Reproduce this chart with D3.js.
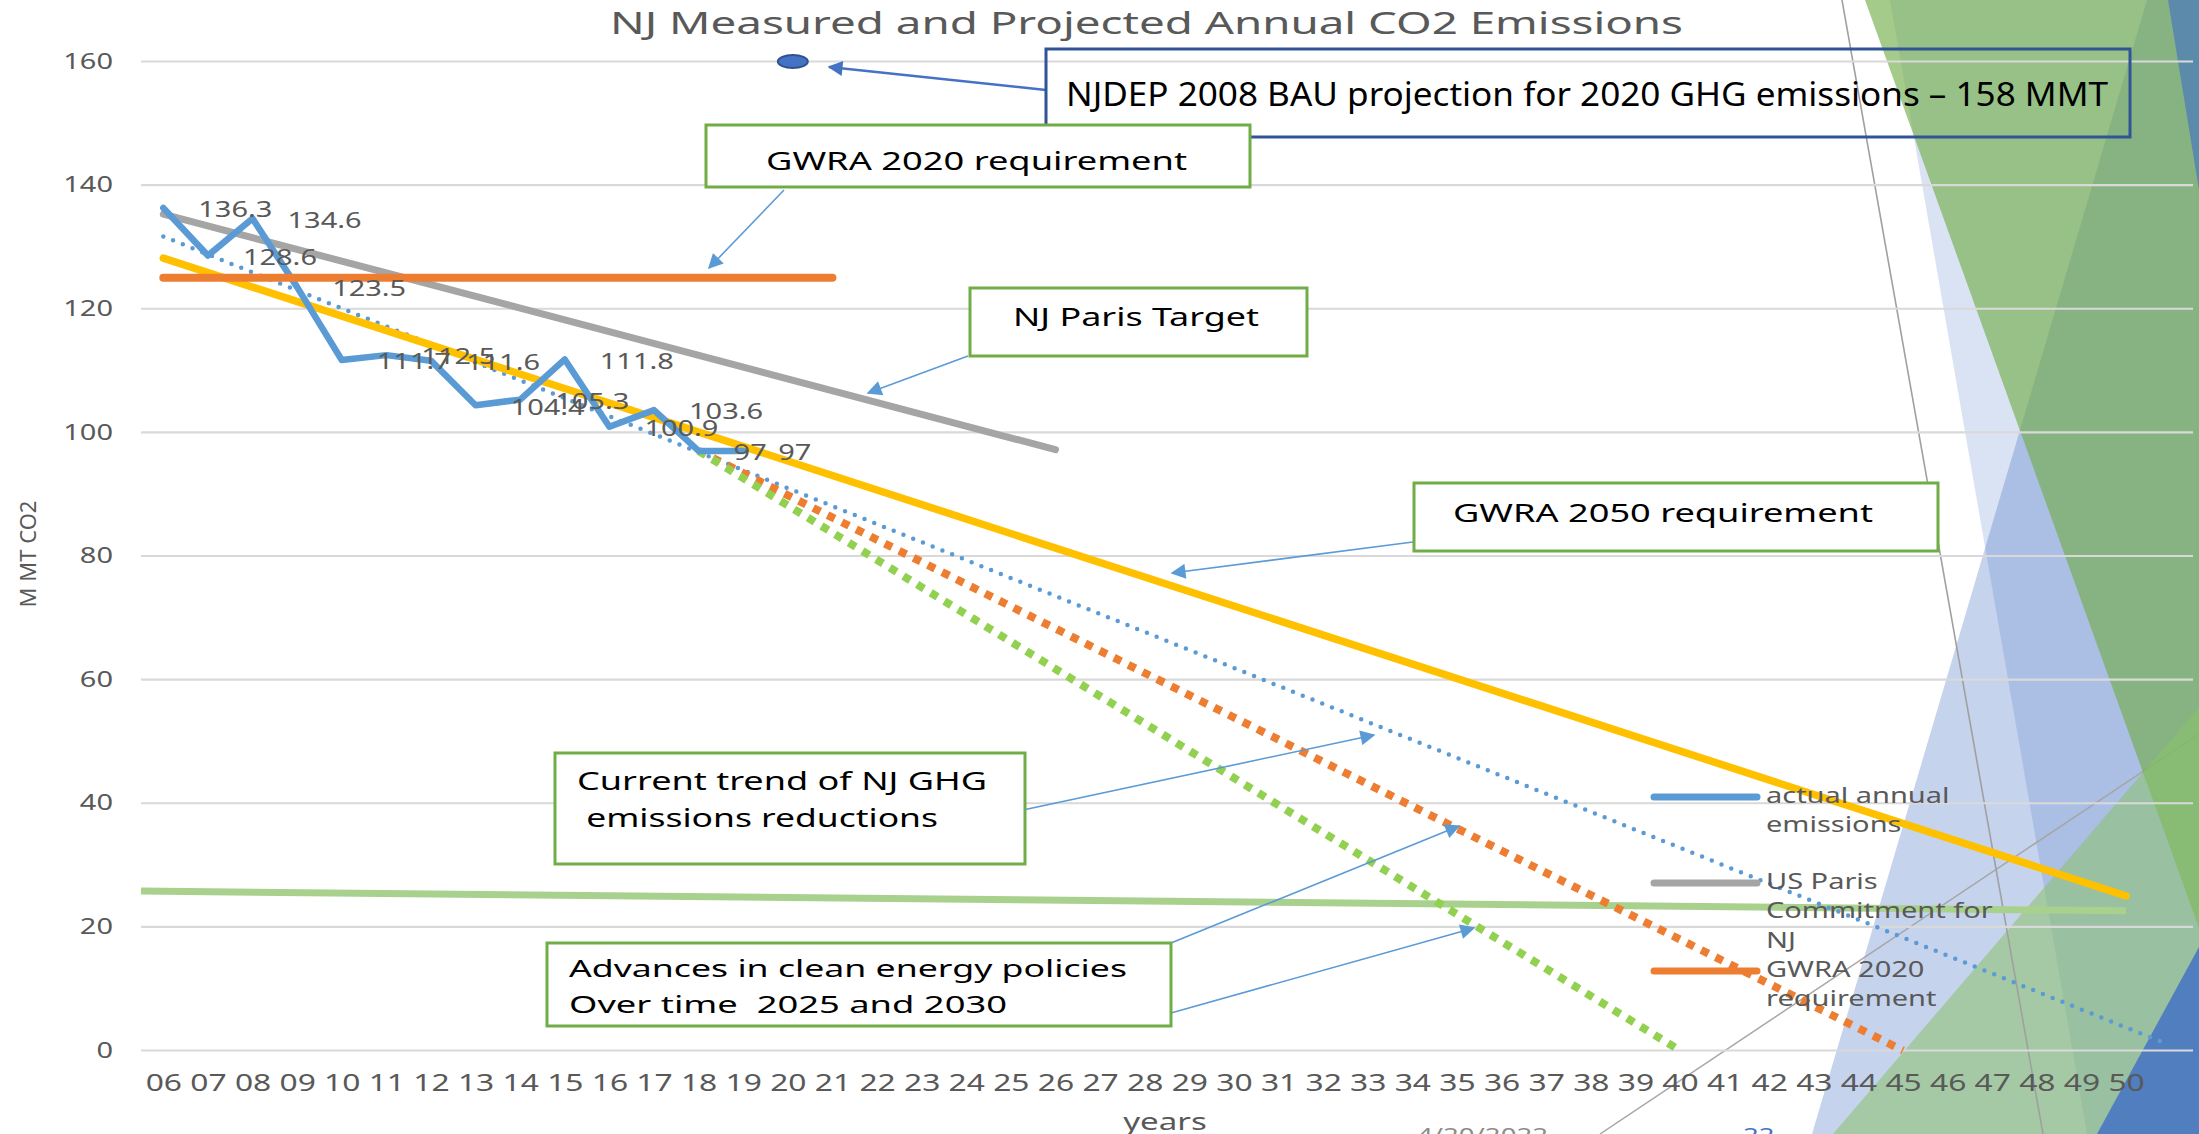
<!DOCTYPE html>
<html>
<head>
<meta charset="utf-8">
<script src="https://cdn.jsdelivr.net/npm/d3@7"></script>
<style>
  html, body { margin: 0; padding: 0; background: #fff; }
  svg { display: block; }
  text { font-family: "Noto Sans", "Open Sans", sans-serif; white-space: pre; }
</style>
</head>
<body>
<div id="chart"></div>
<script>
// Data (years are 20xx, two digits)

const yearLabels = ["06", "07", "08", "09", "10", "11", "12", "13", "14", "15",
  "16", "17", "18", "19", "20", "21", "22", "23", "24", "25", "26", "27", "28",
  "29", "30", "31", "32", "33", "34", "35", "36", "37", "38", "39", "40", "41",
  "42", "43", "44", "45", "46", "47", "48", "49", "50"];
const yTicks = [0, 20, 40, 60, 80, 100, 120, 140, 160];

const actualYears = [6, 7, 8, 9, 10, 11, 12, 13, 14, 15, 16, 17, 18, 19];
const actualValues = [136.3, 128.6, 134.6, 123.5, 111.7, 112.5, 111.6, 104.4,
  105.3, 111.8, 100.9, 103.6, 97, 97];

const parisYears = [6, 15, 26];
const parisValues = [135.3, 118.2, 97.2];

const gwra2020Years = [6, 21];
const gwra2020Values = [125, 125];

const gwra2050Years = [6, 50];
const gwra2050Values = [128.2, 25.0];

const trendYears = [6, 50.9];
const trendValues = [131.7, 1.1];

const policy2030Years = [18, 45];
const policy2030Values = [97, 0];

const policy2025Years = [18, 40];
const policy2025Values = [97, 0];

const floorYears = [5.5, 50];
const floorValues = [25.8, 22.6];

const bauYear = 20;
const bauValue = 160;

const legendNames = [
  ["actual annual", "emissions"],
  ["US Paris", "Commitment for", "NJ"],
  ["GWRA 2020", "requirement"],
];
const legendColors = ["#5B9BD5", "#A5A5A5", "#ED7D31"];

// Layout

const width = 2199;
const height = 1134;
const plot = {left: 141, right: 2193, top: 61.5, bottom: 1050.5};
const S = 1.38; // horizontal stretch of the chart lettering
const gray = "#595959";

/**
 * Stretch text horizontally around its anchor point.
 * @param {*} sel
 */
function stretch(sel) {
  sel.each(function() {
    const t = d3.select(this);
    const x = +t.attr("x") || 0;
    const y = +t.attr("y") || 0;
    t.attr("x", 0).attr("y", 0)
      .attr("transform", "translate(" + x + "," + y + ") scale(" + S + ",1)");
  });
}

const svg = d3.select("#chart")
  .append("svg")
  .attr("width", width)
  .attr("height", height)
  .attr("viewBox", "0 0 " + width + " " + height);

// Slide decoration on the right edge

const facets = [
  {pts: [[1890, 0], [2199, 0], [2199, 1134], [2087, 1134]], fill: "#4472C4", op: 0.2},
  {pts: [[2147, 0], [2199, 0], [2199, 1134], [1812, 1134]], fill: "#4472C4", op: 0.31},
];
const facetsTop = [
  {pts: [[1865, 0], [2199, 0], [2199, 928]], fill: "#70AD47", op: 0.63},
  {pts: [[2168, 0], [2199, 0], [2199, 190]], fill: "#4472C4", op: 0.63},
  {pts: [[1833, 1134], [2199, 1134], [2199, 707]], fill: "#8BC168", op: 0.55},
  {pts: [[2097, 1134], [2199, 1134], [2199, 947]], fill: "#4472C4", op: 0.85},
];

const deco = svg.append("g").attr("class", "deco");
deco.selectAll("polygon.back")
  .data(facets)
  .enter()
  .append("polygon")
  .attr("points", (d) => d.pts.join(" "))
  .style("fill", (d) => d.fill)
  .style("fill-opacity", (d) => d.op);
deco.append("line")
  .attr("x1", 1600).attr("y1", 1134).attr("x2", 2199).attr("y2", 734)
  .style("stroke", "#A6A6A6").style("stroke-width", 1.5);
deco.selectAll("polygon.front")
  .data(facetsTop)
  .enter()
  .append("polygon")
  .attr("points", (d) => d.pts.join(" "))
  .style("fill", (d) => d.fill)
  .style("fill-opacity", (d) => d.op);
deco.append("line")
  .attr("x1", 1842).attr("y1", 0).attr("x2", 2043).attr("y2", 1134)
  .style("stroke", "#A0A0A0").style("stroke-width", 1.6);

// Scales

const x = d3.scaleLinear().domain([5.5, 51.5]).range([plot.left, plot.right]);
const y = d3.scaleLinear().domain([0, 160]).range([plot.bottom, plot.top]);

// Gridlines

svg.append("g")
  .selectAll("line")
  .data(yTicks)
  .enter()
  .append("line")
  .attr("x1", plot.left)
  .attr("x2", plot.right)
  .attr("y1", (d) => y(d))
  .attr("y2", (d) => y(d))
  .style("stroke", "#D9D9D9")
  .style("stroke-width", 2.2);

// Axes

const yAxis = svg.append("g")
  .attr("transform", "translate(" + plot.left + ",0)")
  .call(d3.axisLeft(y).tickValues(yTicks).tickSize(0).tickPadding(28));
yAxis.select(".domain").remove();
yAxis.selectAll("text")
  .style("font-family", "'Noto Sans', sans-serif")
  .style("font-size", "21px")
  .style("fill", gray)
  .call(stretch);

const xAxis = svg.append("g")
  .attr("transform", "translate(0," + plot.bottom + ")")
  .call(d3.axisBottom(x)
    .tickValues(yearLabels.map((d) => +d))
    .tickFormat((d, i) => yearLabels[i])
    .tickSize(0)
    .tickPadding(24));
xAxis.select(".domain").remove();
xAxis.selectAll("text")
  .style("font-family", "'Noto Sans', sans-serif")
  .style("font-size", "23px")
  .style("fill", gray)
  .call(stretch);

// Series

const pairs = (xs, vs) => xs.map((d, i) => ({year: d, value: vs[i]}));
const line = d3.line().x((d) => x(d.year)).y((d) => y(d.value));

const series = [
  {data: pairs(floorYears, floorValues), color: "#A9D18E", w: 7, cap: "butt"},
  {data: pairs(trendYears, trendValues), color: "#5B9BD5", w: 4.5, cap: "round", dash: "0 10.5"},
  {data: pairs(policy2030Years, policy2030Values), color: "#ED7D31", w: 8, cap: "butt", dash: "8 8"},
  {data: pairs(policy2025Years, policy2025Values), color: "#92D050", w: 8, cap: "butt", dash: "8 8"},
  {data: pairs(gwra2050Years, gwra2050Values), color: "#FFC000", w: 7.5, cap: "round"},
  {data: pairs(parisYears, parisValues), color: "#A5A5A5", w: 7, cap: "round"},
  {data: pairs(actualYears, actualValues), color: "#5B9BD5", w: 6.5, cap: "round"},
  {data: pairs(gwra2020Years, gwra2020Values), color: "#ED7D31", w: 8, cap: "round"},
];

svg.append("g")
  .selectAll("path")
  .data(series)
  .enter()
  .append("path")
  .attr("d", (d) => line(d.data))
  .style("fill", "none")
  .style("stroke", (d) => d.color)
  .style("stroke-width", (d) => d.w)
  .style("stroke-linecap", (d) => d.cap)
  .style("stroke-linejoin", "round")
  .style("stroke-dasharray", (d) => d.dash || null);

// Data labels, to the right of each point
svg.append("g")
  .selectAll("text")
  .data(pairs(actualYears, actualValues))
  .enter()
  .append("text")
  .attr("x", (d) => x(d.year) + 35)
  .attr("y", (d) => y(d.value) + 2)
  .attr("dy", "0.35em")
  .text((d) => String(d.value))
  .style("font-size", "21px")
  .style("fill", gray)
  .call(stretch);

// BAU projection marker
svg.append("ellipse")
  .attr("cx", x(bauYear) + 5)
  .attr("cy", y(bauValue))
  .attr("rx", 15)
  .attr("ry", 6.5)
  .style("fill", "#4472C4")
  .style("stroke", "#2F528F")
  .style("stroke-width", 2);

// Legend
const legend = svg.append("g");
const legendTop = [797, 883, 971];
legendNames.forEach(function(lines, i) {
  legend.append("line")
    .attr("x1", 1654).attr("x2", 1757)
    .attr("y1", legendTop[i]).attr("y2", legendTop[i])
    .style("stroke", legendColors[i])
    .style("stroke-width", 7)
    .style("stroke-linecap", "round");
  legend.selectAll(null)
    .data(lines)
    .enter()
    .append("text")
    .attr("x", 1766)
    .attr("y", (d, j) => legendTop[i] + 6 + j * 29.3)
    .text((d) => d)
    .style("font-size", "21px")
    .style("fill", gray)
    .call(stretch);
});

// Titles
svg.append("text")
  .attr("x", 610).attr("y", 34)
  .attr("textLength", 1073).attr("lengthAdjust", "spacingAndGlyphs")
  .text("NJ Measured and Projected Annual CO2 Emissions")
  .style("font-size", "31.5px")
  .style("fill", gray);

svg.append("text")
  .attr("transform", "translate(36,554) rotate(-90)")
  .attr("text-anchor", "middle")
  .text("M MT CO2")
  .style("font-size", "22px")
  .style("fill", gray);

svg.append("text")
  .attr("x", 1165).attr("y", 1130)
  .attr("text-anchor", "middle")
  .text("years")
  .style("font-size", "24px")
  .style("fill", gray)
  .call(stretch);

// Slide footer (cut off at the bottom)
svg.append("text")
  .attr("x", 1417).attr("y", 1142)
  .text("4/20/2022")
  .style("font-size", "20px")
  .style("fill", "#8C8C8C")
  .call(stretch);
svg.append("text")
  .attr("x", 1743).attr("y", 1142)
  .text("22")
  .style("font-size", "20px")
  .style("fill", "#4472C4")
  .call(stretch);

// Annotations

const defs = svg.append("defs");
["#5B9BD5", "#4472C4"].forEach(function(c, i) {
  defs.append("marker")
    .attr("id", "head" + i)
    .attr("viewBox", "0 0 10 10")
    .attr("refX", 9)
    .attr("refY", 5)
    .attr("markerUnits", "userSpaceOnUse")
    .attr("markerWidth", 17)
    .attr("markerHeight", 15)
    .attr("orient", "auto")
    .append("path")
    .attr("d", "M0,0 L10,5 L0,10 z")
    .style("fill", c);
});

const arrows = [
  {x1: 1046, y1: 90, x2: 829, y2: 67, head: 1, color: "#4472C4", w: 2.5},
  {x1: 784, y1: 190, x2: 709, y2: 268, head: 0, color: "#5B9BD5", w: 1.6},
  {x1: 968, y1: 356, x2: 868, y2: 393, head: 0, color: "#5B9BD5", w: 1.6},
  {x1: 1413, y1: 542, x2: 1172, y2: 573, head: 0, color: "#5B9BD5", w: 1.6},
  {x1: 1023, y1: 810, x2: 1374, y2: 735, head: 0, color: "#5B9BD5", w: 1.6},
  {x1: 1171, y1: 943, x2: 1459, y2: 826, head: 0, color: "#5B9BD5", w: 1.6},
  {x1: 1171, y1: 1013, x2: 1474, y2: 928, head: 0, color: "#5B9BD5", w: 1.6},
];

const boxes = [
  {x: 1046, y: 49, w: 1084, h: 88, stroke: "#2F5597", fill: "none"},
  {x: 706, y: 125, w: 544, h: 62, stroke: "#70AD47", fill: "#fff"},
  {x: 970, y: 288, w: 337, h: 68, stroke: "#70AD47", fill: "#fff"},
  {x: 1414, y: 483, w: 524, h: 68, stroke: "#70AD47", fill: "#fff"},
  {x: 555, y: 753, w: 470, h: 111, stroke: "#70AD47", fill: "#fff"},
  {x: 547, y: 943, w: 624, h: 83, stroke: "#70AD47", fill: "#fff"},
];

const notes = [
  {t: "NJDEP 2008 BAU projection for 2020 GHG emissions \u2013 158 MMT", x: 1066, y: 106, size: 33, len: 1042},
  {t: "GWRA 2020 requirement", x: 766, y: 170, size: 25, len: 421},
  {t: "NJ Paris Target", x: 1013, y: 326, size: 25, len: 246},
  {t: "GWRA 2050 requirement", x: 1453, y: 522, size: 25, len: 420},
  {t: "Current trend of NJ GHG", x: 577, y: 790, size: 25, len: 410},
  {t: " emissions reductions", x: 577, y: 827, size: 25, len: 361},
  {t: "Advances in clean energy policies", x: 569, y: 977, size: 24, len: 558},
  {t: "Over time  2025 and 2030", x: 569, y: 1013, size: 24, len: 438},
];

const ann = svg.append("g");
ann.selectAll("line")
  .data(arrows)
  .enter()
  .append("line")
  .attr("x1", (d) => d.x1).attr("y1", (d) => d.y1)
  .attr("x2", (d) => d.x2).attr("y2", (d) => d.y2)
  .attr("marker-end", (d) => "url(#head" + d.head + ")")
  .style("stroke", (d) => d.color)
  .style("stroke-width", (d) => d.w);

ann.selectAll("rect")
  .data(boxes)
  .enter()
  .append("rect")
  .attr("x", (d) => d.x).attr("y", (d) => d.y)
  .attr("width", (d) => d.w).attr("height", (d) => d.h)
  .style("fill", (d) => d.fill)
  .style("stroke", (d) => d.stroke)
  .style("stroke-width", 3);

ann.selectAll("text")
  .data(notes)
  .enter()
  .append("text")
  .attr("x", (d) => d.x).attr("y", (d) => d.y)
  .attr("textLength", (d) => d.len)
  .attr("lengthAdjust", "spacingAndGlyphs")
  .text((d) => d.t)
  .style("font-size", (d) => d.size + "px")
  .style("fill", "#000");
</script>
</body>
</html>
